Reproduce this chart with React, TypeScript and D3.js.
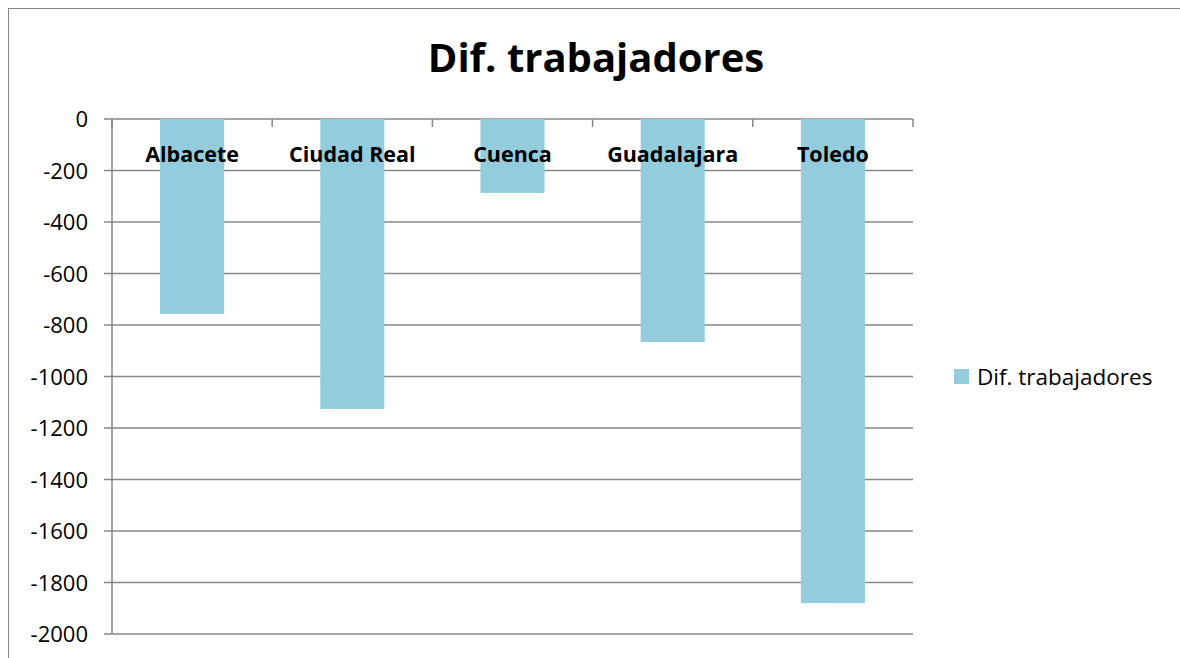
import React from "react";
import * as d3 from "d3";

const categories = ["Albacete", "Ciudad Real", "Cuenca", "Guadalajara", "Toledo"];
const values = [-757, -1126, -287, -866, -1880];
const yTicks = [0, -200, -400, -600, -800, -1000, -1200, -1400, -1600, -1800, -2000];
const seriesName = "Dif. trabajadores";
const title = "Dif. trabajadores";

export default function App() {
  const W = 1180, H = 658;
  const left = 112, right = 913, top = 119, bottom = 634;
  const x = d3.scaleBand<string>().domain(categories).range([left, right]).paddingInner(0.6).paddingOuter(0.3);
  const xb = d3.scaleBand<string>().domain(categories).range([left, right]);
  const y = d3.scaleLinear().domain([0, -2000]).range([top, bottom]);
  const grid = "#878787";
  const barColor = "#93CDDD";
  const font = "'Open Sans', sans-serif";
  return (
    <svg width={W} height={H} style={{ position: "absolute", left: 0, top: 0 }}>
      <rect x={0} y={0} width={W} height={H} fill="#fff" />
      <rect x={8.5} y={8.5} width={1300} height={800} fill="none" stroke="#878787" strokeWidth={1} />
      <text x={596} y={72} textAnchor="middle" fontFamily={font} fontWeight="bold" fontSize={40} fill="#000">{title}</text>
      {yTicks.map((t) => (
        <g key={t}>
          <line x1={104} x2={right} y1={y(t)} y2={y(t)} stroke={grid} strokeWidth={1.5} />
          <text x={88} y={y(t) + 8} textAnchor="end" fontFamily={font} fontSize={22} fill="#000">{t}</text>
        </g>
      ))}
      <line x1={left} x2={left} y1={top} y2={bottom} stroke={grid} strokeWidth={1.5} />
      {[...categories.map((c) => xb(c) as number), right].map((px, i) => (
        <line key={i} x1={px} x2={px} y1={top} y2={top + 8} stroke={grid} strokeWidth={1.5} />
      ))}
      {categories.map((c, i) => (
        <rect key={c} x={x(c)} y={y(0)} width={x.bandwidth()} height={y(values[i]) - y(0)} fill={barColor} />
      ))}
      {categories.map((c) => (
        <text key={c} x={(xb(c) as number) + xb.bandwidth() / 2} y={162} textAnchor="middle" fontFamily={font} fontWeight="bold" fontSize={21.5} fill="#000">{c}</text>
      ))}
      <rect x={954} y={369} width={15} height={15} fill={barColor} />
      <text x={977} y={385} fontFamily={font} fontSize={22.5} fill="#000">{seriesName}</text>
    </svg>
  );
}
